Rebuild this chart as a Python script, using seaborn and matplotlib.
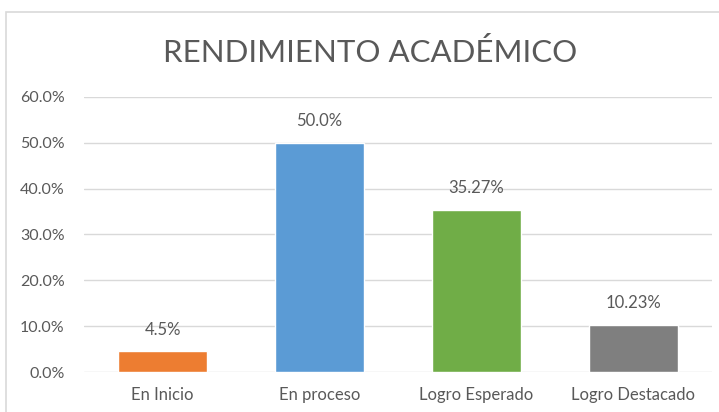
import pandas as pd
import matplotlib.pyplot as plt
import seaborn as sb
from matplotlib.patches import Rectangle

categorias = ['En Inicio', 'En proceso', 'Logro Esperado', 'Logro Destacado']
porcentajes = [4.5, 50.0, 35.27, 10.23]
etiquetas = ['4.5%', '50.0%', '35.27%', '10.23%']
colores = ['#ED7D31', '#5B9BD5', '#70AD47', '#7F7F7F']
ticks_y = [0, 10, 20, 30, 40, 50, 60]

df = pd.DataFrame({'Nivel': categorias, 'Porcentaje': porcentajes})

sb.set_style('white')
plt.rcParams['font.family'] = ['Lato', 'DejaVu Sans']
gris = '#595959'

fig = plt.figure(figsize=(7.19, 4.12), dpi=100)
ax = fig.add_axes([0.117, 0.097, 0.873, 0.668])

sb.barplot(data=df, x='Nivel', y='Porcentaje', hue='Nivel', palette=colores,
           width=0.57, legend=False, ax=ax, saturation=1)

ax.set_ylim(0, 60)
ax.set_yticks(ticks_y)
ax.set_yticklabels([f'{t:.1f}%' for t in ticks_y], fontsize=11.5, color=gris)
ax.tick_params(axis='x', labelsize=12, labelcolor=gris, pad=11, length=0)
ax.tick_params(axis='y', length=0, pad=14)
ax.set_xlabel('')
ax.set_ylabel('')
ax.grid(axis='y', color='#d9d9d9', linewidth=1)
ax.set_axisbelow(True)
for s in ax.spines.values():
    s.set_visible(False)

for cont in ax.containers:
    for bar in cont:
        i = int(round(bar.get_x() + bar.get_width() / 2))
        ax.annotate(etiquetas[i], (bar.get_x() + bar.get_width() / 2, bar.get_height()),
                    xytext=(0, 10), textcoords='offset points', ha='center', va='bottom',
                    fontsize=12, color=gris)

fig.text(0.515, 0.872, 'RENDIMIENTO ACADÉMICO', ha='center', va='center',
         fontsize=22.5, color=gris, fontweight='normal')

fig.patches.append(Rectangle((6 / 719, -0.1), 1.2, 1 - 12 / 412 + 0.1,
                             transform=fig.transFigure, fill=False,
                             edgecolor='#d9d9d9', linewidth=1.2))

fig.savefig('out.png', dpi=100)
